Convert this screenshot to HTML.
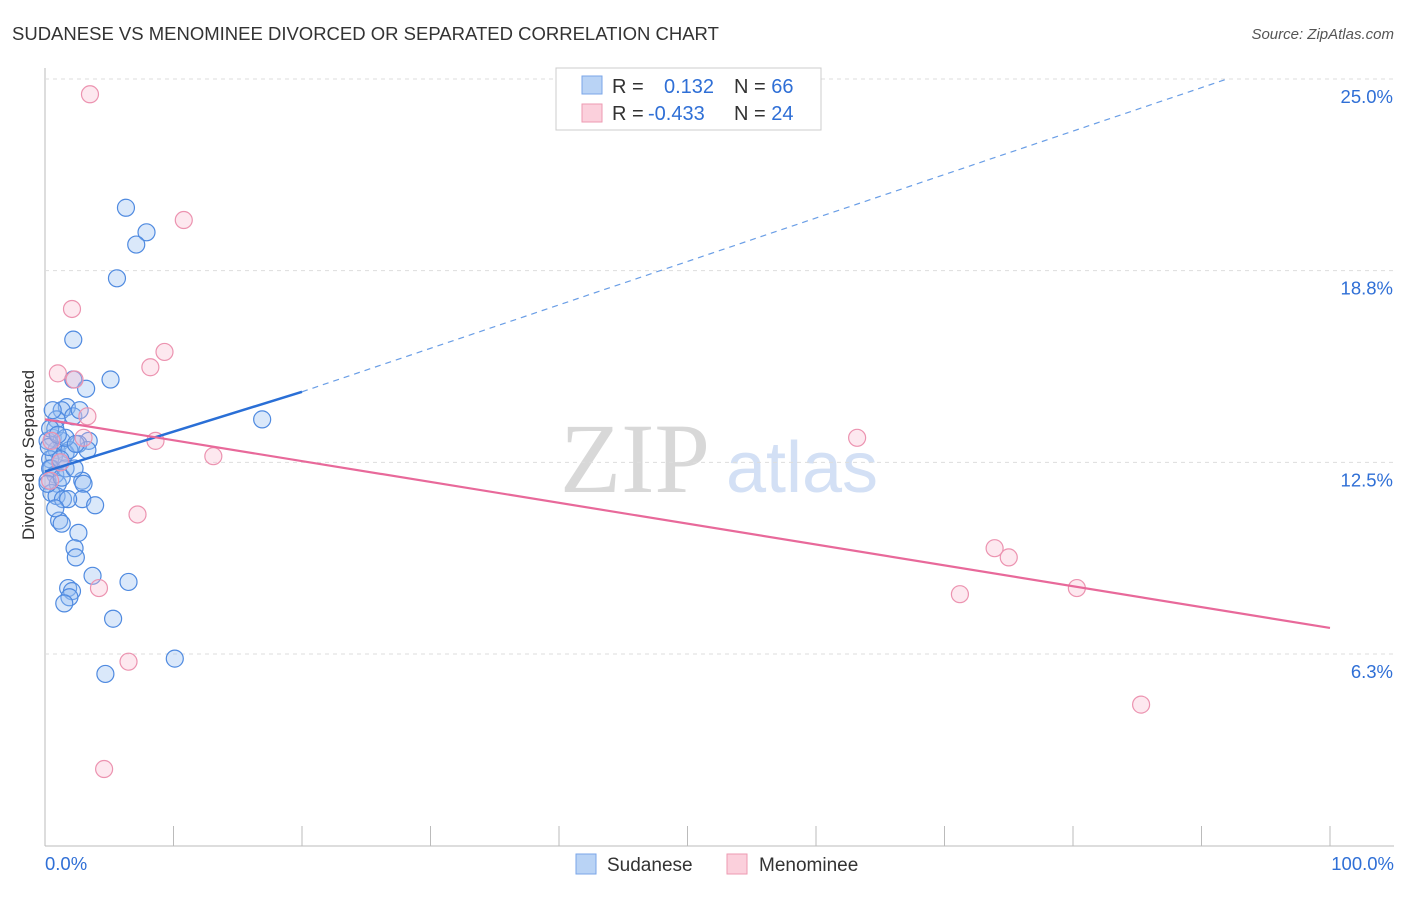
<!DOCTYPE html>
<html><head><meta charset="utf-8"><style>
body{margin:0;background:#fff;font-family:"Liberation Sans",sans-serif}
</style></head><body>
<svg id="c" width="1406" height="892" font-family="Liberation Sans, sans-serif">
<text x="12" y="40" font-size="18.5" fill="#333">SUDANESE VS MENOMINEE DIVORCED OR SEPARATED CORRELATION CHART</text>
<text x="1394" y="39" font-size="15" fill="#555" text-anchor="end" font-style="italic">Source: ZipAtlas.com</text>
<text x="34" y="455" font-size="17" fill="#333" text-anchor="middle" transform="rotate(-90 34 455)">Divorced or Separated</text>
<text x="635" y="492" font-size="100" fill="#d8d8d8" style="font-family:'Liberation Serif',serif" text-anchor="middle">ZIP</text>
<text x="802" y="492" font-size="72" fill="#d3e0f5" text-anchor="middle">atlas</text>
<g id="grid"></g><g id="pts"></g><g id="lines"></g>
<g>
<rect x="556" y="68" width="265" height="62" fill="#fff" stroke="#ccc"/>
<rect x="582" y="76" width="20" height="18" fill="#b9d3f5" stroke="#7aa6e8"/>
<text x="612" y="93" font-size="20" fill="#333">R = <tspan fill="#2f6fd6" x="664">0.132</tspan><tspan x="734" fill="#333">N = </tspan><tspan fill="#2f6fd6">66</tspan></text>
<rect x="582" y="104" width="20" height="18" fill="#fbd0dc" stroke="#ee9ab2"/>
<text x="612" y="120" font-size="20" fill="#333">R = <tspan fill="#2f6fd6" x="648">-0.433</tspan><tspan x="734" fill="#333">N = </tspan><tspan fill="#2f6fd6">24</tspan></text>
</g>
<g>
<rect x="576" y="854" width="20" height="20" fill="#b9d3f5" stroke="#7aa6e8"/>
<text x="607" y="871" font-size="19" fill="#333">Sudanese</text>
<rect x="727" y="854" width="20" height="20" fill="#fbd0dc" stroke="#ee9ab2"/>
<text x="759" y="871" font-size="19" fill="#333">Menominee</text>
</g>
</svg>
<script>
const yTicks=[6.25,12.5,18.75,25];
const yTickLabels=["6.3%","12.5%","18.8%","25.0%"];
const xTickLabels=["0.0%","100.0%"];
const sudX=[6.3,7.9,7.1,5.6,2.2,5.1,2.2,3.2,1.7,1.3,2.2,0.9,16.9,0.6,1.3,3.4,2.6,0.9,1.6,1.9,3.3,0.7,0.4,1.2,0.5,0.8,0.2,1.0,2.9,3.0,0.5,0.9,1.4,2.9,3.9,1.1,1.3,2.6,2.3,2.4,3.7,6.5,1.8,2.1,1.9,1.5,5.3,10.1,4.7,0.2,0.4,0.8,1.6,0.2,0.3,1.2,1.6,2.4,0.6,2.7,1.8,0.8,1.3,2.3,0.4,1.0];
const sudY=[20.8,20.0,19.6,18.5,16.5,15.2,15.2,14.9,14.3,14.2,14.0,13.9,13.9,13.3,13.2,13.2,13.1,12.9,12.8,12.9,12.9,12.7,12.6,12.5,12.3,12.1,11.9,11.8,11.9,11.8,11.5,11.4,11.3,11.3,11.1,10.6,10.5,10.2,9.7,9.4,8.8,8.6,8.4,8.3,8.1,7.9,7.4,6.1,5.6,13.2,12.3,13.6,12.3,11.8,13.0,12.6,13.3,13.1,14.2,14.2,11.3,11.0,12.0,12.3,13.6,13.4];
const menX=[3.5,10.8,2.1,9.3,8.2,1.0,2.3,3.3,3.0,8.6,13.1,7.2,4.2,6.5,4.6,63.2,73.9,75.0,71.2,80.3,85.3,0.5,0.4,1.2];
const menY=[24.5,20.4,17.5,16.1,15.6,15.4,15.2,14.0,13.3,13.2,12.7,10.8,8.4,6.0,2.5,13.3,9.7,9.4,8.2,8.4,4.6,13.2,11.9,12.5];
const sudLine=[0,12.2,20,14.8,92,25];
const menLine=[0,13.9,100,7.1];
const X=v=>45+v*12.85, Y=v=>845.7-v*30.67;
const NS="http://www.w3.org/2000/svg";
function mk(t,a,p){const e=document.createElementNS(NS,t);for(const k in a)e.setAttribute(k,a[k]);p.appendChild(e);return e;}
const g=document.getElementById('grid');
mk('line',{x1:45,y1:68,x2:45,y2:846,stroke:'#bbb'},g);
mk('line',{x1:45,y1:846,x2:1394,y2:846,stroke:'#bbb'},g);
yTicks.forEach((t,i)=>{const l=mk('line',{x1:45,x2:1394,y1:Y(t),y2:Y(t),stroke:'#ddd','stroke-dasharray':'4,4'},g);


const tx=mk('text',{x:1393,y:Y(t)+24,'font-size':18.5,fill:'#2f6fd6','text-anchor':'end'},g);tx.textContent=yTickLabels[i];

});
for(let i=0;i<=10;i++){const l=mk('line',{x1:X(i*10),x2:X(i*10),y1:826,y2:846,stroke:'#bbb'},g);

}
[[0,'start',45],[1,'end',1394]].forEach(([i,a,x])=>{const tx=mk('text',{x:x,y:870,'font-size':18.5,fill:'#2f6fd6','text-anchor':a},g);tx.textContent=xTickLabels[i];

});
const p=document.getElementById('pts');
sudX.forEach((x,i)=>{const c=mk('circle',{cx:X(x),cy:Y(sudY[i]),r:8.5,fill:'rgba(150,190,240,0.35)',stroke:'#4f8ae0','stroke-width':1.2},p);

});
menX.forEach((x,i)=>{const c=mk('circle',{cx:X(x),cy:Y(menY[i]),r:8.5,fill:'rgba(250,190,210,0.35)',stroke:'#ec93b0','stroke-width':1.2},p);

});
const L=document.getElementById('lines');
let a=mk('line',{x1:X(sudLine[0]),y1:Y(sudLine[1]),x2:X(sudLine[2]),y2:Y(sudLine[3]),stroke:'#2a6fd6','stroke-width':2.5},L);


a=mk('line',{x1:X(sudLine[2]),y1:Y(sudLine[3]),x2:X(sudLine[4]),y2:Y(sudLine[5]),stroke:'#6a9ee6','stroke-width':1.2,'stroke-dasharray':'6,5'},L);


a=mk('line',{x1:X(menLine[0]),y1:Y(menLine[1]),x2:X(menLine[2]),y2:Y(menLine[3]),stroke:'#e8699a','stroke-width':2.2},L);


</script>
</body></html>
